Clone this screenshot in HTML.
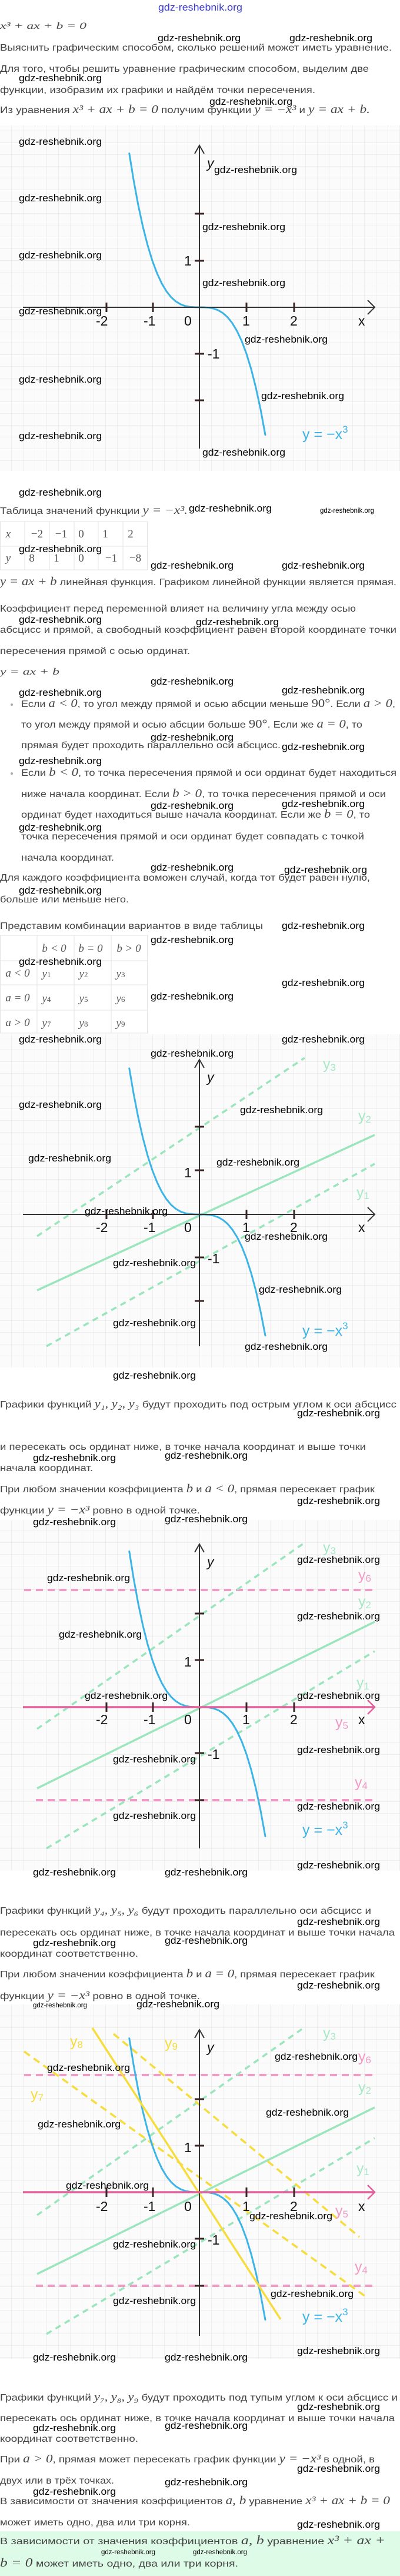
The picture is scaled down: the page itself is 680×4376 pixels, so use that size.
<!DOCTYPE html>
<html><head><meta charset="utf-8">
<style>
html,body{margin:0;padding:0;background:#fff;}
svg{display:block;}
.t{font-family:"Liberation Sans",sans-serif;font-size:16px;fill:#444;}
.m{font-family:"Liberation Serif",serif;font-style:italic;}
.r{font-family:"Liberation Serif",serif;}
.w{font-family:"Liberation Sans Narrow","Liberation Sans",sans-serif;font-size:17px;fill:#000;}
.ws{font-family:"Liberation Sans Narrow","Liberation Sans",sans-serif;font-size:12px;fill:#000;}
.ax{font-family:"Liberation Sans",sans-serif;font-size:23px;fill:#111;}
.lb{font-family:"Liberation Sans",sans-serif;font-size:25px;}
.tb{font-family:"Liberation Serif",serif;font-size:19px;fill:#555;}
</style></head><body>
<svg width="680" height="4376" viewBox="0 0 680 4376" xmlns="http://www.w3.org/2000/svg">
<defs>
<pattern id="g1" x="19" y="2" width="20" height="20" patternUnits="userSpaceOnUse"><rect width="20" height="20" fill="#fbfbfb"/><path d="M0 0H20M0 0V20" stroke="#e2e2e2" stroke-width="1"/></pattern>
<pattern id="g2" x="19" y="3" width="20" height="20" patternUnits="userSpaceOnUse"><rect width="20" height="20" fill="#fbfbfb"/><path d="M0 0H20M0 0V20" stroke="#e2e2e2" stroke-width="1"/></pattern>
<pattern id="g3" x="19" y="0" width="20" height="20" patternUnits="userSpaceOnUse"><rect width="20" height="20" fill="#fbfbfb"/><path d="M0 0H20M0 0V20" stroke="#e2e2e2" stroke-width="1"/></pattern>
<pattern id="g4" x="19" y="4" width="20" height="20" patternUnits="userSpaceOnUse"><rect width="20" height="20" fill="#fbfbfb"/><path d="M0 0H20M0 0V20" stroke="#e2e2e2" stroke-width="1"/></pattern>
<polyline id="cub" fill="none" stroke="#3cb4e6" stroke-width="3" vector-effect="non-scaling-stroke" stroke-linecap="round" stroke-linejoin="round" points="-1.49,-3.308 -1.4,-2.744 -1.3,-2.197 -1.2,-1.728 -1.1,-1.331 -1,-1 -0.9,-0.729 -0.8,-0.512 -0.7,-0.343 -0.6,-0.216 -0.5,-0.125 -0.4,-0.064 -0.3,-0.027 -0.2,-0.008 -0.1,-0.001 0,0 0.1,0.001 0.2,0.008 0.3,0.027 0.4,0.064 0.5,0.125 0.6,0.216 0.7,0.343 0.8,0.512 0.9,0.729 1,1 1.1,1.331 1.2,1.728 1.3,2.197 1.4,2.744"/>
</defs>

<!-- top -->
<text x="269" y="18" font-family="Liberation Sans Narrow, Liberation Sans, sans-serif" font-size="17" fill="#3a3ad0" textLength="143" lengthAdjust="spacingAndGlyphs">gdz-reshebnik.org</text>
<text class="t m" x="0" y="49" font-size="21" textLength="147" lengthAdjust="spacingAndGlyphs">x³ + ax + b = 0</text>
<text class="t" x="0" y="86" textLength="666" lengthAdjust="spacingAndGlyphs">Выяснить графическим способом, сколько решений может иметь уравнение.</text>
<text class="t" x="0" y="122" textLength="627" lengthAdjust="spacingAndGlyphs">Для того, чтобы решить уравнение графическим способом, выделим две</text>
<text class="t" x="0" y="158" textLength="536" lengthAdjust="spacingAndGlyphs">функции, изобразим их графики и найдём точки пересечения.</text>
<text class="t" x="0" y="192" textLength="629" lengthAdjust="spacingAndGlyphs">Из уравнения <tspan class="m" font-size="20">x³ + ax + b = 0</tspan> получим функции <tspan class="m" font-size="20">y = −x³</tspan> и <tspan class="m" font-size="20">y = ax + b.</tspan></text>
<text class="w" x="268" y="70" textLength="141" lengthAdjust="spacingAndGlyphs">gdz-reshebnik.org</text>
<text class="w" x="492" y="70" textLength="141" lengthAdjust="spacingAndGlyphs">gdz-reshebnik.org</text>
<text class="w" x="32" y="138" textLength="141" lengthAdjust="spacingAndGlyphs">gdz-reshebnik.org</text>
<text class="w" x="356" y="178" textLength="141" lengthAdjust="spacingAndGlyphs">gdz-reshebnik.org</text>

<!-- GRAPH 1 -->
<rect x="0" y="213" width="680" height="587" fill="url(#g1)"/>
<use href="#cub" transform="translate(339,522) scale(80,79)"/>
<g stroke="#333" stroke-width="2" fill="none">
<line x1="39" y1="522" x2="637" y2="522"/><polyline points="625,510 637,522 625,534"/>
<line x1="339" y1="247" x2="339" y2="762"/><polyline points="331,261 339,247 347,261"/>
</g>
<g stroke="#3a2626" stroke-width="3">
<line x1="181" y1="514" x2="181" y2="530"/><line x1="260" y1="514" x2="260" y2="530"/><line x1="419" y1="514" x2="419" y2="530"/><line x1="500" y1="514" x2="500" y2="530"/>
<line x1="331" y1="363" x2="347" y2="363"/><line x1="331" y1="443" x2="347" y2="443"/><line x1="331" y1="601" x2="347" y2="601"/><line x1="331" y1="680" x2="347" y2="680"/>
</g>
<g class="ax"><text x="163" y="553">-2</text><text x="244" y="553">-1</text><text x="313" y="553">0</text><text x="412" y="553">1</text><text x="493" y="553">2</text><text x="609" y="553">x</text><text x="313" y="451">1</text><text x="353" y="609">-1</text><text x="352" y="285" font-style="italic">y</text></g>
<text class="lb" x="514" y="746" fill="#3cb4e6">y = −x<tspan dy="-11" font-size="17">3</tspan></text>
<g class="w">
<text x="32" y="246" textLength="141" lengthAdjust="spacingAndGlyphs">gdz-reshebnik.org</text>
<text x="364" y="294" textLength="141" lengthAdjust="spacingAndGlyphs">gdz-reshebnik.org</text>
<text x="32" y="342" textLength="141" lengthAdjust="spacingAndGlyphs">gdz-reshebnik.org</text>
<text x="344" y="391" textLength="141" lengthAdjust="spacingAndGlyphs">gdz-reshebnik.org</text>
<text x="32" y="439" textLength="141" lengthAdjust="spacingAndGlyphs">gdz-reshebnik.org</text>
<text x="344" y="486" textLength="141" lengthAdjust="spacingAndGlyphs">gdz-reshebnik.org</text>
<text x="32" y="534" textLength="141" lengthAdjust="spacingAndGlyphs">gdz-reshebnik.org</text>
<text x="416" y="582" textLength="141" lengthAdjust="spacingAndGlyphs">gdz-reshebnik.org</text>
<text x="32" y="650" textLength="141" lengthAdjust="spacingAndGlyphs">gdz-reshebnik.org</text>
<text x="444" y="678" textLength="141" lengthAdjust="spacingAndGlyphs">gdz-reshebnik.org</text>
<text x="32" y="746" textLength="141" lengthAdjust="spacingAndGlyphs">gdz-reshebnik.org</text>
<text x="344" y="774" textLength="141" lengthAdjust="spacingAndGlyphs">gdz-reshebnik.org</text>
</g>

<!-- table 1 section -->
<text class="w" x="32" y="842" textLength="141" lengthAdjust="spacingAndGlyphs">gdz-reshebnik.org</text>
<text class="t" x="0" y="873" textLength="319" lengthAdjust="spacingAndGlyphs">Таблица значений функции <tspan class="m" font-size="20">y = −x³.</tspan></text>
<text class="w" x="321" y="869" textLength="141" lengthAdjust="spacingAndGlyphs">gdz-reshebnik.org</text>
<text class="ws" x="544" y="871" textLength="92" lengthAdjust="spacingAndGlyphs">gdz-reshebnik.org</text>
<g stroke="#e3e3e3" stroke-width="1" fill="none">
<rect x="0.5" y="886" width="250" height="82"/><line x1="0" y1="928" x2="251" y2="928"/>
<line x1="42" y1="886" x2="42" y2="968"/><line x1="84" y1="886" x2="84" y2="968"/><line x1="126" y1="886" x2="126" y2="968"/><line x1="167" y1="886" x2="167" y2="968"/><line x1="209" y1="886" x2="209" y2="968"/>
</g>
<g class="tb" text-anchor="middle">
<text x="14" y="913" font-style="italic">x</text><text x="63" y="913">−2</text><text x="104" y="913">−1</text><text x="138" y="913">0</text><text x="179" y="913">1</text><text x="222" y="913">2</text>
<text x="14" y="954" font-style="italic">y</text><text x="54" y="954">8</text><text x="96" y="954">1</text><text x="138" y="954">0</text><text x="189" y="954">−1</text><text x="230" y="954">−8</text>
</g>
<text class="w" x="32" y="938" textLength="141" lengthAdjust="spacingAndGlyphs">gdz-reshebnik.org</text>
<text class="w" x="256" y="966" textLength="141" lengthAdjust="spacingAndGlyphs">gdz-reshebnik.org</text>
<text class="w" x="479" y="966" textLength="141" lengthAdjust="spacingAndGlyphs">gdz-reshebnik.org</text>
<text class="t" x="0" y="994" textLength="674" lengthAdjust="spacingAndGlyphs"><tspan class="m" font-size="20">y = ax + b</tspan> линейная функция. Графиком линейной функции является прямая.</text>
<text class="t" x="0" y="1039" textLength="605" lengthAdjust="spacingAndGlyphs">Коэффициент перед переменной влияет на величину угла между осью</text>
<text class="w" x="32" y="1058" textLength="141" lengthAdjust="spacingAndGlyphs">gdz-reshebnik.org</text>
<text class="w" x="333" y="1062" textLength="141" lengthAdjust="spacingAndGlyphs">gdz-reshebnik.org</text>
<text class="t" x="0" y="1075" textLength="674" lengthAdjust="spacingAndGlyphs">абсцисс и прямой, а свободный коэффициент равен второй координате точки</text>
<text class="t" x="0" y="1111" textLength="323" lengthAdjust="spacingAndGlyphs">пересечения прямой с осью ординат.</text>
<text class="t m" x="0" y="1146" font-size="20" textLength="101" lengthAdjust="spacingAndGlyphs">y = ax + b</text>
<text class="w" x="256" y="1163" textLength="141" lengthAdjust="spacingAndGlyphs">gdz-reshebnik.org</text>
<text class="w" x="32" y="1182" textLength="141" lengthAdjust="spacingAndGlyphs">gdz-reshebnik.org</text>
<text class="w" x="479" y="1178" textLength="141" lengthAdjust="spacingAndGlyphs">gdz-reshebnik.org</text>
<circle cx="20" cy="1197" r="2" fill="#aaa"/>
<text class="t" x="36" y="1201" textLength="636" lengthAdjust="spacingAndGlyphs">Если <tspan class="m" font-size="20">a &lt; 0</tspan>, то угол между прямой и осью абсции меньше <tspan class="r" font-size="20">90°</tspan>. Если <tspan class="m" font-size="20">a &gt; 0</tspan>,</text>
<text class="t" x="36" y="1236" textLength="580" lengthAdjust="spacingAndGlyphs">то угол между прямой и осью абсции больше <tspan class="r" font-size="20">90°</tspan>. Если же <tspan class="m" font-size="20">a = 0</tspan>, то</text>
<text class="w" x="256" y="1258" textLength="141" lengthAdjust="spacingAndGlyphs">gdz-reshebnik.org</text>
<text class="t" x="36" y="1271" textLength="441" lengthAdjust="spacingAndGlyphs">прямая будет проходить параллельно оси абсцисс.</text>
<text class="w" x="479" y="1274" textLength="141" lengthAdjust="spacingAndGlyphs">gdz-reshebnik.org</text>
<text class="w" x="32" y="1298" textLength="141" lengthAdjust="spacingAndGlyphs">gdz-reshebnik.org</text>
<circle cx="20" cy="1314" r="2" fill="#aaa"/>
<text class="t" x="36" y="1318" textLength="638" lengthAdjust="spacingAndGlyphs">Если <tspan class="m" font-size="20">b &lt; 0</tspan>, то точка пересечения прямой и оси ординат будет находиться</text>
<text class="t" x="36" y="1354" textLength="620" lengthAdjust="spacingAndGlyphs">ниже начала координат. Если <tspan class="m" font-size="20">b &gt; 0</tspan>, то точка пересечения прямой и оси</text>
<text class="w" x="256" y="1374" textLength="141" lengthAdjust="spacingAndGlyphs">gdz-reshebnik.org</text>
<text class="w" x="479" y="1371" textLength="141" lengthAdjust="spacingAndGlyphs">gdz-reshebnik.org</text>
<text class="t" x="36" y="1389" textLength="593" lengthAdjust="spacingAndGlyphs">ординат будет находиться выше начала координат. Если же <tspan class="m" font-size="20">b = 0</tspan>, то</text>
<text class="w" x="32" y="1411" textLength="141" lengthAdjust="spacingAndGlyphs">gdz-reshebnik.org</text>
<text class="t" x="36" y="1426" textLength="583" lengthAdjust="spacingAndGlyphs">точка пересечения прямой и оси ординат будет совпадать с точкой</text>
<text class="t" x="36" y="1462" textLength="158" lengthAdjust="spacingAndGlyphs">начала координат.</text>
<text class="w" x="256" y="1479" textLength="141" lengthAdjust="spacingAndGlyphs">gdz-reshebnik.org</text>
<text class="w" x="483" y="1483" textLength="141" lengthAdjust="spacingAndGlyphs">gdz-reshebnik.org</text>
<text class="t" x="0" y="1496" textLength="629" lengthAdjust="spacingAndGlyphs">Для каждого коэффициента воможен случай, когда тот будет равен нулю,</text>
<text class="w" x="32" y="1518" textLength="141" lengthAdjust="spacingAndGlyphs">gdz-reshebnik.org</text>
<text class="t" x="0" y="1533" textLength="219" lengthAdjust="spacingAndGlyphs">больше или меньше него.</text>
<text class="t" x="0" y="1578" textLength="447" lengthAdjust="spacingAndGlyphs">Представим комбинации вариантов в виде таблицы</text>
<text class="w" x="479" y="1578" textLength="141" lengthAdjust="spacingAndGlyphs">gdz-reshebnik.org</text>
<g stroke="#e3e3e3" stroke-width="1" fill="none">
<rect x="0.5" y="1589" width="250" height="166"/>
<line x1="0" y1="1632" x2="251" y2="1632"/><line x1="0" y1="1673" x2="251" y2="1673"/><line x1="0" y1="1716" x2="251" y2="1716"/>
<line x1="63" y1="1589" x2="63" y2="1755"/><line x1="126" y1="1589" x2="126" y2="1755"/><line x1="189" y1="1589" x2="189" y2="1755"/>
</g>
<g class="tb" font-style="italic" text-anchor="middle">
<text x="92" y="1617">b &lt; 0</text><text x="154" y="1617">b = 0</text><text x="219" y="1617">b &gt; 0</text>
<text x="30" y="1659">a &lt; 0</text><text x="79" y="1660">y<tspan font-size="13" font-style="normal">1</tspan></text><text x="142" y="1660">y<tspan font-size="13" font-style="normal">2</tspan></text><text x="205" y="1660">y<tspan font-size="13" font-style="normal">3</tspan></text>
<text x="30" y="1701">a = 0</text><text x="79" y="1702">y<tspan font-size="13" font-style="normal">4</tspan></text><text x="142" y="1702">y<tspan font-size="13" font-style="normal">5</tspan></text><text x="205" y="1702">y<tspan font-size="13" font-style="normal">6</tspan></text>
<text x="30" y="1743">a &gt; 0</text><text x="79" y="1744">y<tspan font-size="13" font-style="normal">7</tspan></text><text x="142" y="1744">y<tspan font-size="13" font-style="normal">8</tspan></text><text x="205" y="1744">y<tspan font-size="13" font-style="normal">9</tspan></text>
</g>
<text class="w" x="256" y="1602" textLength="141" lengthAdjust="spacingAndGlyphs">gdz-reshebnik.org</text>
<text class="w" x="32" y="1639" textLength="141" lengthAdjust="spacingAndGlyphs">gdz-reshebnik.org</text>
<text class="w" x="479" y="1675" textLength="141" lengthAdjust="spacingAndGlyphs">gdz-reshebnik.org</text>
<text class="w" x="256" y="1698" textLength="141" lengthAdjust="spacingAndGlyphs">gdz-reshebnik.org</text>

<!-- GRAPH 2 -->
<rect x="0" y="1757" width="680" height="566" fill="url(#g2)"/>
<g stroke="#9be5bd" stroke-width="3.5" fill="none">
<line x1="63" y1="2192" x2="637" y2="1928"/>
<line x1="63" y1="2100" x2="518" y2="1797" stroke-dasharray="10 8"/>
<line x1="79" y1="2287" x2="637" y2="1977" stroke-dasharray="10 8"/>
</g>
<use href="#cub" transform="translate(339,2063) scale(80,75)"/>
<g stroke="#333" stroke-width="2" fill="none">
<line x1="39" y1="2063" x2="637" y2="2063"/><polyline points="625,2051 637,2063 625,2075"/>
<line x1="339" y1="1800" x2="339" y2="2287"/><polyline points="331,1814 339,1800 347,1814"/>
</g>
<g stroke="#3a2626" stroke-width="3">
<line x1="181" y1="2055" x2="181" y2="2071"/><line x1="260" y1="2055" x2="260" y2="2071"/><line x1="419" y1="2055" x2="419" y2="2071"/><line x1="500" y1="2055" x2="500" y2="2071"/>
<line x1="331" y1="1914" x2="347" y2="1914"/><line x1="331" y1="1988" x2="347" y2="1988"/><line x1="331" y1="2136" x2="347" y2="2136"/><line x1="331" y1="2210" x2="347" y2="2210"/>
</g>
<g class="ax"><text x="163" y="2093">-2</text><text x="244" y="2093">-1</text><text x="313" y="2093">0</text><text x="412" y="2093">1</text><text x="493" y="2093">2</text><text x="609" y="2093">x</text><text x="313" y="2000">1</text><text x="353" y="2146">-1</text><text x="352" y="1838" font-style="italic">y</text></g>
<g class="lb" fill="#a6e8c6">
<text x="549" y="1816">y<tspan font-size="17" dy="3">3</tspan></text>
<text x="609" y="1904">y<tspan font-size="17" dy="3">2</tspan></text>
<text x="606" y="2034">y<tspan font-size="17" dy="3">1</tspan></text>
</g>
<text class="lb" x="514" y="2269" fill="#3cb4e6">y = −x<tspan dy="-11" font-size="17">3</tspan></text>
<g class="w">
<text x="32" y="1771" textLength="141" lengthAdjust="spacingAndGlyphs">gdz-reshebnik.org</text>
<text x="479" y="1771" textLength="141" lengthAdjust="spacingAndGlyphs">gdz-reshebnik.org</text>
<text x="256" y="1795" textLength="141" lengthAdjust="spacingAndGlyphs">gdz-reshebnik.org</text>
<text x="32" y="1882" textLength="141" lengthAdjust="spacingAndGlyphs">gdz-reshebnik.org</text>
<text x="408" y="1891" textLength="141" lengthAdjust="spacingAndGlyphs">gdz-reshebnik.org</text>
<text x="48" y="1973" textLength="141" lengthAdjust="spacingAndGlyphs">gdz-reshebnik.org</text>
<text x="368" y="1980" textLength="141" lengthAdjust="spacingAndGlyphs">gdz-reshebnik.org</text>
<text x="144" y="2063" textLength="141" lengthAdjust="spacingAndGlyphs">gdz-reshebnik.org</text>
<text x="416" y="2106" textLength="141" lengthAdjust="spacingAndGlyphs">gdz-reshebnik.org</text>
<text x="192" y="2151" textLength="141" lengthAdjust="spacingAndGlyphs">gdz-reshebnik.org</text>
<text x="440" y="2196" textLength="141" lengthAdjust="spacingAndGlyphs">gdz-reshebnik.org</text>
<text x="192" y="2253" textLength="141" lengthAdjust="spacingAndGlyphs">gdz-reshebnik.org</text>
<text x="416" y="2293" textLength="141" lengthAdjust="spacingAndGlyphs">gdz-reshebnik.org</text>
<text x="192" y="2342" textLength="141" lengthAdjust="spacingAndGlyphs">gdz-reshebnik.org</text>
</g>
<text class="t" x="0" y="2391" textLength="674" lengthAdjust="spacingAndGlyphs">Графики функций <tspan class="m" font-size="19">y₁,  y₂,  y₃</tspan> будут проходить под острым углом к оси абсцисс</text>
<text class="w" x="505" y="2406" textLength="141" lengthAdjust="spacingAndGlyphs">gdz-reshebnik.org</text>
<text class="t" x="0" y="2463" textLength="622" lengthAdjust="spacingAndGlyphs">и пересекать ось ординат ниже, в точке начала координат и выше точки</text>
<text class="w" x="56" y="2482" textLength="141" lengthAdjust="spacingAndGlyphs">gdz-reshebnik.org</text>
<text class="w" x="280" y="2478" textLength="141" lengthAdjust="spacingAndGlyphs">gdz-reshebnik.org</text>
<text class="t" x="0" y="2499" textLength="158" lengthAdjust="spacingAndGlyphs">начала координат.</text>
<text class="t" x="0" y="2535" textLength="637" lengthAdjust="spacingAndGlyphs">При любом значении коэффициента <tspan class="m" font-size="20">b</tspan> и <tspan class="m" font-size="20">a &lt; 0</tspan>, прямая пересекает график</text>
<text class="w" x="505" y="2555" textLength="141" lengthAdjust="spacingAndGlyphs">gdz-reshebnik.org</text>
<text class="t" x="0" y="2571" textLength="340" lengthAdjust="spacingAndGlyphs">функции <tspan class="m" font-size="20">y = −x³</tspan> ровно в одной точке.</text>

<!-- GRAPH 3 -->
<rect x="0" y="2582" width="680" height="596" fill="url(#g3)"/>
<g fill="none">
<line x1="41" y1="2701" x2="640" y2="2701" stroke="#f29ac6" stroke-width="4" stroke-dasharray="12 8"/>
<line x1="61" y1="3058" x2="637" y2="3058" stroke="#f29ac6" stroke-width="4" stroke-dasharray="12 8"/>
<g stroke="#9be5bd" stroke-width="3.5">
<line x1="63" y1="3038" x2="637" y2="2755"/>
<line x1="63" y1="2937" x2="516" y2="2622" stroke-dasharray="10 8"/>
<line x1="79" y1="3140" x2="637" y2="2805" stroke-dasharray="10 8"/>
</g>
</g>
<use href="#cub" transform="translate(339,2900) scale(80,80)"/>
<g stroke="#333" stroke-width="2" fill="none">
<line x1="339" y1="2623" x2="339" y2="3140"/><polyline points="331,2637 339,2623 347,2637"/>
<polyline points="625,2888 637,2900 625,2912" stroke="#e0609a" stroke-width="2.5"/>
</g>
<line x1="39" y1="2900" x2="635" y2="2900" stroke="#e0609a" stroke-width="3.5"/>
<g stroke="#3a2626" stroke-width="3">
<line x1="181" y1="2892" x2="181" y2="2908"/><line x1="260" y1="2892" x2="260" y2="2908"/><line x1="419" y1="2892" x2="419" y2="2908"/><line x1="500" y1="2892" x2="500" y2="2908"/>
<line x1="331" y1="2741" x2="347" y2="2741"/><line x1="331" y1="2820" x2="347" y2="2820"/><line x1="331" y1="2978" x2="347" y2="2978"/><line x1="331" y1="3058" x2="347" y2="3058"/>
</g>
<g class="ax"><text x="163" y="2929">-2</text><text x="244" y="2929">-1</text><text x="313" y="2929">0</text><text x="412" y="2929">1</text><text x="493" y="2929">2</text><text x="609" y="2929">x</text><text x="313" y="2831">1</text><text x="353" y="2988">-1</text><text x="352" y="2661" font-style="italic">y</text></g>
<g class="lb">
<text x="549" y="2637" fill="#a6e8c6">y<tspan font-size="17" dy="3">3</tspan></text>
<text x="609" y="2684" fill="#f29ac6">y<tspan font-size="17" dy="3">6</tspan></text>
<text x="609" y="2729" fill="#a6e8c6">y<tspan font-size="17" dy="3">2</tspan></text>
<text x="606" y="2867" fill="#a6e8c6">y<tspan font-size="17" dy="3">1</tspan></text>
<text x="570" y="2934" fill="#f29ac6">y<tspan font-size="17" dy="3">5</tspan></text>
<text x="603" y="3036" fill="#f29ac6">y<tspan font-size="17" dy="3">4</tspan></text>
</g>
<text class="lb" x="514" y="3117" fill="#3cb4e6">y = −x<tspan dy="-11" font-size="17">3</tspan></text>
<g class="w">
<text x="56" y="2591" textLength="141" lengthAdjust="spacingAndGlyphs">gdz-reshebnik.org</text>
<text x="280" y="2586" textLength="141" lengthAdjust="spacingAndGlyphs">gdz-reshebnik.org</text>
<text x="505" y="2655" textLength="141" lengthAdjust="spacingAndGlyphs">gdz-reshebnik.org</text>
<text x="80" y="2686" textLength="141" lengthAdjust="spacingAndGlyphs">gdz-reshebnik.org</text>
<text x="505" y="2751" textLength="141" lengthAdjust="spacingAndGlyphs">gdz-reshebnik.org</text>
<text x="100" y="2782" textLength="141" lengthAdjust="spacingAndGlyphs">gdz-reshebnik.org</text>
<text x="144" y="2886" textLength="141" lengthAdjust="spacingAndGlyphs">gdz-reshebnik.org</text>
<text x="505" y="2886" textLength="141" lengthAdjust="spacingAndGlyphs">gdz-reshebnik.org</text>
<text x="192" y="2994" textLength="141" lengthAdjust="spacingAndGlyphs">gdz-reshebnik.org</text>
<text x="505" y="2978" textLength="141" lengthAdjust="spacingAndGlyphs">gdz-reshebnik.org</text>
<text x="192" y="3090" textLength="141" lengthAdjust="spacingAndGlyphs">gdz-reshebnik.org</text>
<text x="505" y="3074" textLength="141" lengthAdjust="spacingAndGlyphs">gdz-reshebnik.org</text>
<text x="505" y="3174" textLength="141" lengthAdjust="spacingAndGlyphs">gdz-reshebnik.org</text>
<text x="56" y="3186" textLength="141" lengthAdjust="spacingAndGlyphs">gdz-reshebnik.org</text>
<text x="280" y="3186" textLength="141" lengthAdjust="spacingAndGlyphs">gdz-reshebnik.org</text>
</g>
<text class="t" x="0" y="3251" textLength="631" lengthAdjust="spacingAndGlyphs">Графики функций <tspan class="m" font-size="19">y₄,  y₅,  y₆</tspan> будут проходить параллельно оси абсцисс и</text>
<text class="w" x="505" y="3270" textLength="141" lengthAdjust="spacingAndGlyphs">gdz-reshebnik.org</text>
<text class="t" x="0" y="3288" textLength="671" lengthAdjust="spacingAndGlyphs">пересекать ось ординат ниже, в точке начала координат и выше точки начала</text>
<text class="w" x="56" y="3306" textLength="141" lengthAdjust="spacingAndGlyphs">gdz-reshebnik.org</text>
<text class="w" x="280" y="3302" textLength="141" lengthAdjust="spacingAndGlyphs">gdz-reshebnik.org</text>
<text class="t" x="0" y="3324" textLength="235" lengthAdjust="spacingAndGlyphs">координат соответственно.</text>
<text class="t" x="0" y="3359" textLength="637" lengthAdjust="spacingAndGlyphs">При любом значении коэффициента <tspan class="m" font-size="20">b</tspan> и <tspan class="m" font-size="20">a = 0</tspan>, прямая пересекает график</text>
<text class="w" x="505" y="3378" textLength="141" lengthAdjust="spacingAndGlyphs">gdz-reshebnik.org</text>
<text class="t" x="0" y="3396" textLength="340" lengthAdjust="spacingAndGlyphs">функции <tspan class="m" font-size="20">y = −x³</tspan> ровно в одной точке.</text>

<!-- GRAPH 4 -->
<rect x="0" y="3405" width="680" height="602" fill="url(#g4)"/>
<g fill="none">
<line x1="41" y1="3525" x2="640" y2="3525" stroke="#f29ac6" stroke-width="4" stroke-dasharray="12 8"/>
<line x1="61" y1="3883" x2="637" y2="3883" stroke="#f29ac6" stroke-width="4" stroke-dasharray="12 8"/>
<g stroke="#9be5bd" stroke-width="3.5">
<line x1="63" y1="3863" x2="637" y2="3580"/>
<line x1="63" y1="3763" x2="516" y2="3445" stroke-dasharray="10 8"/>
<line x1="79" y1="3965" x2="637" y2="3632" stroke-dasharray="10 8"/>
</g>
<g stroke="#f6dc3c" stroke-width="3.5">
<line x1="41" y1="3485" x2="624" y2="3903" stroke-dasharray="12 8"/>
<line x1="193" y1="3455" x2="611" y2="3800" stroke-dasharray="12 8"/>
</g>
</g>
<use href="#cub" transform="translate(339,3724) scale(80,79)"/>
<line x1="157" y1="3445" x2="477" y2="3940" stroke="#f6dc3c" stroke-width="3.5"/>
<g stroke="#333" stroke-width="2" fill="none">
<line x1="339" y1="3448" x2="339" y2="3968"/><polyline points="331,3462 339,3448 347,3462"/>
<polyline points="625,3712 637,3724 625,3736" stroke="#e0609a" stroke-width="2.5"/>
</g>
<line x1="39" y1="3724" x2="635" y2="3724" stroke="#e0609a" stroke-width="3.5"/>
<g stroke="#3a2626" stroke-width="3">
<line x1="181" y1="3716" x2="181" y2="3732"/><line x1="260" y1="3716" x2="260" y2="3732"/><line x1="419" y1="3716" x2="419" y2="3732"/><line x1="500" y1="3716" x2="500" y2="3732"/>
<line x1="331" y1="3566" x2="347" y2="3566"/><line x1="331" y1="3645" x2="347" y2="3645"/><line x1="331" y1="3803" x2="347" y2="3803"/><line x1="331" y1="3883" x2="347" y2="3883"/>
</g>
<g class="ax"><text x="163" y="3756">-2</text><text x="244" y="3756">-1</text><text x="313" y="3756">0</text><text x="412" y="3756">1</text><text x="493" y="3756">2</text><text x="609" y="3756">x</text><text x="313" y="3656">1</text><text x="353" y="3813">-1</text><text x="352" y="3486" font-style="italic">y</text></g>
<g class="lb">
<text x="119" y="3476" fill="#f6dc3c">y<tspan font-size="17" dy="3">8</tspan></text>
<text x="280" y="3479" fill="#f6dc3c">y<tspan font-size="17" dy="3">9</tspan></text>
<text x="549" y="3462" fill="#a6e8c6">y<tspan font-size="17" dy="3">3</tspan></text>
<text x="609" y="3502" fill="#f29ac6">y<tspan font-size="17" dy="3">6</tspan></text>
<text x="52" y="3566" fill="#f6dc3c">y<tspan font-size="17" dy="3">7</tspan></text>
<text x="609" y="3554" fill="#a6e8c6">y<tspan font-size="17" dy="3">2</tspan></text>
<text x="606" y="3692" fill="#a6e8c6">y<tspan font-size="17" dy="3">1</tspan></text>
<text x="570" y="3764" fill="#f29ac6">y<tspan font-size="17" dy="3">5</tspan></text>
<text x="603" y="3859" fill="#f29ac6">y<tspan font-size="17" dy="3">4</tspan></text>
</g>
<text class="lb" x="514" y="3944" fill="#3cb4e6">y = −x<tspan dy="-11" font-size="17">3</tspan></text>
<g class="w">
<text class="ws" x="56" y="3410" textLength="92" lengthAdjust="spacingAndGlyphs">gdz-reshebnik.org</text>
<text x="232" y="3410" textLength="141" lengthAdjust="spacingAndGlyphs">gdz-reshebnik.org</text>
<text x="467" y="3499" textLength="141" lengthAdjust="spacingAndGlyphs">gdz-reshebnik.org</text>
<text x="80" y="3518" textLength="141" lengthAdjust="spacingAndGlyphs">gdz-reshebnik.org</text>
<text x="452" y="3594" textLength="141" lengthAdjust="spacingAndGlyphs">gdz-reshebnik.org</text>
<text x="64" y="3614" textLength="141" lengthAdjust="spacingAndGlyphs">gdz-reshebnik.org</text>
<text x="112" y="3718" textLength="141" lengthAdjust="spacingAndGlyphs">gdz-reshebnik.org</text>
<text x="424" y="3770" textLength="141" lengthAdjust="spacingAndGlyphs">gdz-reshebnik.org</text>
<text x="192" y="3818" textLength="141" lengthAdjust="spacingAndGlyphs">gdz-reshebnik.org</text>
<text x="460" y="3902" textLength="141" lengthAdjust="spacingAndGlyphs">gdz-reshebnik.org</text>
<text x="192" y="3914" textLength="141" lengthAdjust="spacingAndGlyphs">gdz-reshebnik.org</text>
<text x="56" y="4010" textLength="141" lengthAdjust="spacingAndGlyphs">gdz-reshebnik.org</text>
<text x="280" y="4010" textLength="141" lengthAdjust="spacingAndGlyphs">gdz-reshebnik.org</text>
<text x="505" y="3999" textLength="141" lengthAdjust="spacingAndGlyphs">gdz-reshebnik.org</text>
</g>
<text class="t" x="0" y="4078" textLength="676" lengthAdjust="spacingAndGlyphs">Графики функций <tspan class="m" font-size="19">y₇,  y₈,  y₉</tspan> будут проходить под тупым углом к оси абсцисс и</text>
<text class="w" x="505" y="4094" textLength="141" lengthAdjust="spacingAndGlyphs">gdz-reshebnik.org</text>
<text class="t" x="0" y="4113" textLength="671" lengthAdjust="spacingAndGlyphs">пересекать ось ординат ниже, в точке начала координат и выше точки начала</text>
<text class="w" x="56" y="4130" textLength="141" lengthAdjust="spacingAndGlyphs">gdz-reshebnik.org</text>
<text class="w" x="280" y="4126" textLength="141" lengthAdjust="spacingAndGlyphs">gdz-reshebnik.org</text>
<text class="t" x="0" y="4148" textLength="235" lengthAdjust="spacingAndGlyphs">координат соответственно.</text>
<text class="t" x="0" y="4183" textLength="637" lengthAdjust="spacingAndGlyphs">При <tspan class="m" font-size="20">a &gt; 0</tspan>, прямая может пересекать график функции <tspan class="m" font-size="20">y = −x³</tspan> в одной, в</text>
<text class="w" x="505" y="4199" textLength="141" lengthAdjust="spacingAndGlyphs">gdz-reshebnik.org</text>
<text class="t" x="0" y="4219" textLength="194" lengthAdjust="spacingAndGlyphs">двух или в трёх точках.</text>
<text class="w" x="280" y="4222" textLength="141" lengthAdjust="spacingAndGlyphs">gdz-reshebnik.org</text>
<text class="w" x="56" y="4238" textLength="141" lengthAdjust="spacingAndGlyphs">gdz-reshebnik.org</text>
<text class="t" x="0" y="4254" textLength="663" lengthAdjust="spacingAndGlyphs">В зависимости от значения коэффициентов <tspan class="m" font-size="20">a,  b</tspan> уравнение <tspan class="m" font-size="20">x³ + ax + b = 0</tspan></text>
<text class="t" x="0" y="4290" textLength="323" lengthAdjust="spacingAndGlyphs">может иметь одно, два или три корня.</text>
<text class="w" x="505" y="4294" textLength="141" lengthAdjust="spacingAndGlyphs">gdz-reshebnik.org</text>
<rect x="0" y="4300" width="680" height="76" fill="#defbe8"/>
<text class="t" x="0" y="4322" font-size="17" fill="#333" textLength="655" lengthAdjust="spacingAndGlyphs">В зависимости от значения коэффициентов <tspan class="m" font-size="21">a,  b</tspan> уравнение <tspan class="m" font-size="21">x³ + ax +</tspan></text>
<text class="ws" x="172" y="4339" textLength="92" lengthAdjust="spacingAndGlyphs">gdz-reshebnik.org</text>
<text class="ws" x="328" y="4339" textLength="92" lengthAdjust="spacingAndGlyphs">gdz-reshebnik.org</text>
<text class="t" x="0" y="4360" font-size="17" fill="#333" textLength="405" lengthAdjust="spacingAndGlyphs"><tspan class="m" font-size="21">b = 0</tspan> может иметь одно, два или три корня.</text>
</svg>
</body></html>
